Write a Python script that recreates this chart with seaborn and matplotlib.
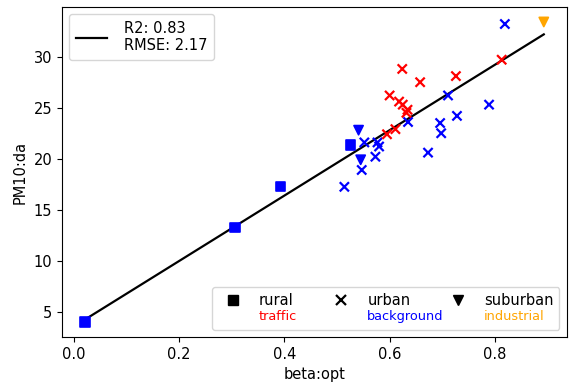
import numpy as np
import pandas as pd
import matplotlib
matplotlib.use("Agg")
import matplotlib.pyplot as plt
from matplotlib.lines import Line2D
import seaborn as sns

# --- data -----------------------------------------------------------------------
rural_x = [0.021, 0.306, 0.393, 0.526]
rural_y = [4.0, 13.3, 17.25, 21.35]
rural_area = ["background", "background", "background", "background"]

suburban_x = [0.541, 0.545, 0.893]
suburban_y = [22.8, 19.9, 33.4]
suburban_area = ["background", "background", "industrial"]

urban_x = [0.552, 0.577, 0.580, 0.573, 0.547, 0.514, 0.673, 0.635, 0.696, 0.698,
           0.711, 0.728, 0.789, 0.819,
           0.624, 0.658, 0.726, 0.600, 0.618, 0.625, 0.634, 0.632, 0.611, 0.595, 0.813]
urban_y = [21.6, 21.6, 21.2, 20.2, 18.9, 17.25, 20.6, 23.6, 23.5, 22.5,
           26.2, 24.2, 25.3, 33.2,
           28.8, 27.5, 28.1, 26.2, 25.6, 25.3, 24.8, 24.5, 22.9, 22.4, 29.7]
urban_area = ["background"] * 14 + ["traffic"] * 11

fit_label = "R2: 0.83\nRMSE: 2.17"
locations = ["rural", "urban", "suburban"]
loc_markers = {"rural": "s", "urban": "x", "suburban": "v"}
areas = ["traffic", "background", "industrial"]
area_colors = {"traffic": "red", "background": "blue", "industrial": "orange"}

df = pd.concat([
    pd.DataFrame({"x": rural_x, "y": rural_y, "area": rural_area, "loc": "rural"}),
    pd.DataFrame({"x": urban_x, "y": urban_y, "area": urban_area, "loc": "urban"}),
    pd.DataFrame({"x": suburban_x, "y": suburban_y, "area": suburban_area, "loc": "suburban"}),
], ignore_index=True)

# --- figure ---------------------------------------------------------------------
fig = plt.figure(figsize=(5.69, 3.87), dpi=100)
ax = fig.add_axes([0.109, 0.129, 0.887, 0.853])

for loc in locations:
    sub = df[df["loc"] == loc]
    if loc == "urban":
        kw = dict(linewidth=1.6)
    else:
        kw = dict(edgecolor="face", linewidth=1.2)
    sns.scatterplot(data=sub, x="x", y="y", hue="area", palette=area_colors,
                    marker=loc_markers[loc], s=44, ax=ax, legend=False, zorder=3, **kw)

# linear fit drawn over the data range
slope, intercept = np.polyfit(df["x"], df["y"], 1)
xs = np.array([df["x"].min(), df["x"].max()])
fit_line, = ax.plot(xs, intercept + slope * xs, color="black", lw=1.6, zorder=2)

ax.set_xlabel("beta:opt", fontsize=10.5)
ax.set_ylabel("PM10:da", fontsize=10.5)
ax.set_xticks([0.0, 0.2, 0.4, 0.6, 0.8])
ax.set_yticks([5, 10, 15, 20, 25, 30])
ax.tick_params(labelsize=10.5)

leg1 = ax.legend([fit_line], [fit_label], loc="upper left", fontsize=10.5,
                 handlelength=2.1, handletextpad=1.2, borderpad=0.45)
ax.add_artist(leg1)

# location legend: first row = marker + name, second row = blank slot for area name
handles, labels = [], []
for loc in locations:
    handles.append(Line2D([], [], marker=loc_markers[loc], color="black", linestyle="None",
                          markersize=6.8, markeredgewidth=1.6 if loc == "urban" else 1))
    labels.append(loc)
    handles.append(Line2D([], [], linestyle="None"))
    labels.append(" ")
leg2 = ax.legend(handles, labels, ncol=3, loc="lower right", fontsize=10.5,
                 labelspacing=0.05, columnspacing=2.25)

# write the coloured area names into the blank slots
fig.canvas.draw()
W, H = fig.get_size_inches() * fig.dpi
blanks = [t for t in leg2.get_texts() if t.get_text() == " "]
for txt, area in zip(blanks, areas):
    bb = txt.get_window_extent()
    fig.text(bb.x0 / W, (bb.y0 + bb.y1) / 2 / H, area, color=area_colors[area],
             fontsize=9.3, ha="left", va="center")

fig.savefig("out.png", dpi=100)
